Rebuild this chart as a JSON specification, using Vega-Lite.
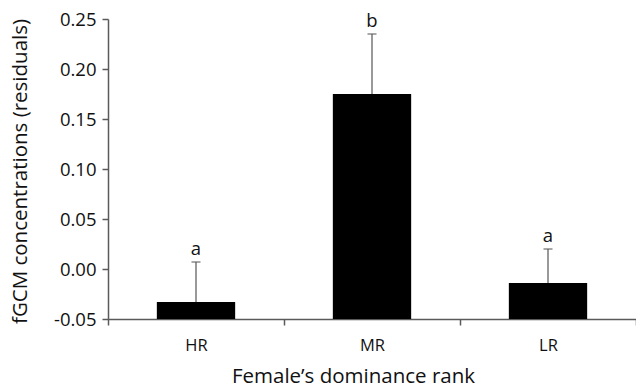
{
  "$schema": "https://vega.github.io/schema/vega-lite/v6.json",
  "autosize": "none",
  "width": 528,
  "height": 300,
  "padding": {"left": 108, "top": 19, "right": 0, "bottom": 73},
  "background": "white",
  "config": {
    "view": {"stroke": null},
    "font": "Open Sans",
    "axis": {"grid": false, "domainColor": "#5a5a5a", "tickColor": "#5a5a5a", "labelColor": "#111111", "titleColor": "#111111", "labelFont": "Open Sans", "titleFont": "Open Sans", "titleFontWeight": "normal", "domainWidth": 1.5, "tickWidth": 1.5, "tickSize": 6, "titleFontSize": 20.5},
    "axisX": {"labelFontSize": 16.5, "labelPadding": 12, "labelAngle": 0},
    "axisY": {"labelFontSize": 18.5, "labelPadding": 6}
  },
  "data": {
    "values": [
      {"rank": "HR", "value": -0.033, "upper": 0.007, "letter": "a"},
      {"rank": "MR", "value": 0.175, "upper": 0.235, "letter": "b"},
      {"rank": "LR", "value": -0.014, "upper": 0.020, "letter": "a"}
    ]
  },
  "encoding": {
    "x": {
      "field": "rank", "type": "nominal", "sort": ["HR", "MR", "LR"],
      "scale": {"paddingInner": 0, "paddingOuter": 0},
      "axis": {"title": "Female\u2019s dominance rank", "titleX": 245, "titleY": 47, "titleAlign": "center", "titleBaseline": "top", "tickBand": "extent"}
    }
  },
  "layer": [
    {
      "mark": {"type": "bar", "color": "black", "width": {"band": 0.445}},
      "encoding": {
        "y": {"field": "value", "type": "quantitative", "scale": {"domain": [-0.05, 0.25], "zero": false, "nice": false},
          "axis": {"title": "fGCM concentrations (residuals)", "values": [-0.05, 0, 0.05, 0.1, 0.15, 0.2, 0.25], "labelExpr": "datum.value < -0.0001 ? '-' + format(-datum.value, '.2f') : format(datum.value, '.2f')", "titleX": -88, "titleY": 152, "titleAngle": -90, "titleAlign": "center", "titleBaseline": "middle"}},
        "y2": {"datum": -0.05}
      }
    },
    {
      "mark": {"type": "rule", "color": "#777777", "strokeWidth": 1.5},
      "encoding": {"y": {"field": "value", "type": "quantitative"}, "y2": {"field": "upper"}}
    },
    {
      "mark": {"type": "tick", "color": "#5a5a5a", "orient": "horizontal", "size": 9, "thickness": 1.5},
      "encoding": {"y": {"field": "upper", "type": "quantitative"}}
    },
    {
      "mark": {"type": "text", "baseline": "bottom", "dy": -3, "fontSize": 18.5, "color": "#111111"},
      "encoding": {"y": {"field": "upper", "type": "quantitative"}, "text": {"field": "letter"}}
    }
  ]
}
